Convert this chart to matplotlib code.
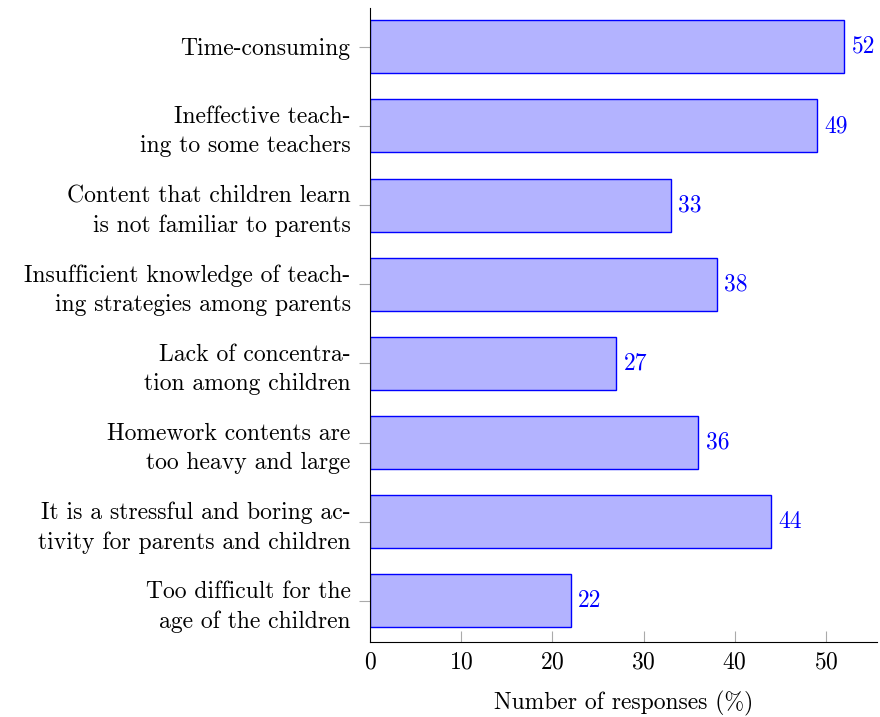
import matplotlib
matplotlib.use("Agg")
import matplotlib.pyplot as plt
import numpy as np

plt.rcParams['font.family'] = ['cmr10', 'DejaVu Serif']
plt.rcParams['axes.formatter.use_mathtext'] = True
plt.rcParams['font.size'] = 17

# data (top to bottom)
categories = [
    "Time-consuming",
    "Ineffective teach-\ning to some teachers",
    "Content that children learn\nis not familiar to parents",
    "Insufficient knowledge of teach-\ning strategies among parents",
    "Lack of concentra-\ntion among children",
    "Homework contents are\ntoo heavy and large",
    "It is a stressful and boring ac-\ntivity for parents and children",
    "Too difficult for the\nage of the children",
]
values = [52, 49, 33, 38, 27, 36, 44, 22]
xticks = [0, 10, 20, 30, 40, 50]

fig = plt.figure(figsize=(8.8, 7.17), dpi=100)
ax = fig.add_axes([0.4205, 0.1046, 0.5761, 0.8842])

ypos = np.arange(len(categories))[::-1]
ax.barh(ypos, values, height=0.67, color=(0.7, 0.7, 1.0), edgecolor='blue', linewidth=1)
for y, v in zip(ypos, values):
    ax.text(v + 0.8, y, str(v), color='blue', va='center', ha='left', fontsize=17)

ax.set_xlim(0, 55.6)
ax.set_ylim(-0.52, 7.49)
ax.set_yticks(ypos)
ax.set_yticklabels(categories, ha='right', multialignment='right', linespacing=1.4)
ax.set_xticks(xticks)
ax.spines['top'].set_visible(False)
ax.spines['right'].set_visible(False)
ax.tick_params(axis='y', direction='out', length=8, color='#aaaaaa', pad=6)
ax.tick_params(axis='x', direction='in', length=8, color='#aaaaaa', pad=7)
ax.set_xlabel('Number of responses (%)', labelpad=12)

fig.savefig('out.png', dpi=100)
